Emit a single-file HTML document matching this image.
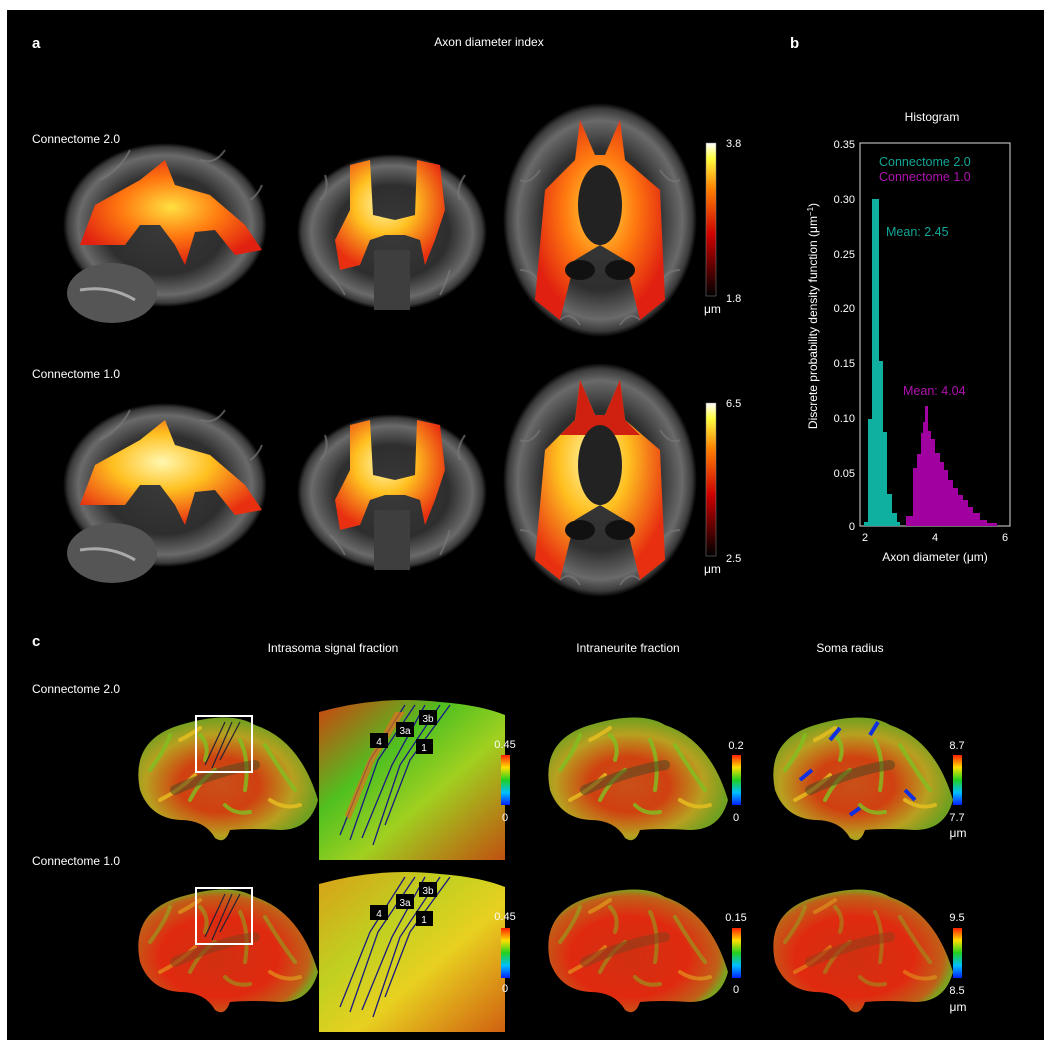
<!DOCTYPE html>
<html><head><meta charset="utf-8"><style>
html,body{margin:0;padding:0;background:#fff;}
svg{display:block;font-family:"Liberation Sans",sans-serif;}
</style></head><body>
<svg width="1051" height="1045" viewBox="0 0 1051 1045" xmlns="http://www.w3.org/2000/svg">
<defs>
<radialGradient id="gb" cx="50%" cy="50%" r="50%"><stop offset="0" stop-color="#3a3a3a"/><stop offset="0.6" stop-color="#2e2e2e"/><stop offset="0.85" stop-color="#6a6a6a"/><stop offset="0.95" stop-color="#3a3a3a"/><stop offset="1" stop-color="#000"/></radialGradient>
<radialGradient id="hot" cx="50%" cy="45%" r="55%"><stop offset="0" stop-color="#ffe040"/><stop offset="0.5" stop-color="#ff7a10"/><stop offset="1" stop-color="#e02010"/></radialGradient>
<radialGradient id="hot2" cx="45%" cy="40%" r="60%"><stop offset="0" stop-color="#fff8b0"/><stop offset="0.45" stop-color="#ffc020"/><stop offset="1" stop-color="#e83010"/></radialGradient>
<linearGradient id="cbh" x1="0" y1="1" x2="0" y2="0"><stop offset="0" stop-color="#000"/><stop offset="0.4" stop-color="#c00"/><stop offset="0.7" stop-color="#ff8000"/><stop offset="0.9" stop-color="#ffff40"/><stop offset="1" stop-color="#fff"/></linearGradient>
<linearGradient id="cbj" x1="0" y1="1" x2="0" y2="0"><stop offset="0" stop-color="#0020ff"/><stop offset="0.25" stop-color="#00c0ff"/><stop offset="0.5" stop-color="#20d020"/><stop offset="0.75" stop-color="#ffe000"/><stop offset="1" stop-color="#ff2000"/></linearGradient>
<radialGradient id="surf" cx="45%" cy="55%" r="55%"><stop offset="0" stop-color="#c85018"/><stop offset="0.4" stop-color="#d04010"/><stop offset="0.75" stop-color="#b8a020"/><stop offset="1" stop-color="#70a020"/></radialGradient>
<radialGradient id="surf2" cx="45%" cy="55%" r="55%"><stop offset="0" stop-color="#d03010"/><stop offset="0.6" stop-color="#e02a10"/><stop offset="0.9" stop-color="#c06018"/><stop offset="1" stop-color="#80a020"/></radialGradient>
<linearGradient id="zp" x1="0" y1="0" x2="1" y2="1"><stop offset="0" stop-color="#d04010"/><stop offset="0.35" stop-color="#50c020"/><stop offset="0.6" stop-color="#a0d020"/><stop offset="1" stop-color="#c05010"/></linearGradient>
<linearGradient id="zp2" x1="0" y1="0" x2="1" y2="1"><stop offset="0" stop-color="#d8a018"/><stop offset="0.35" stop-color="#c0d020"/><stop offset="0.6" stop-color="#e8d020"/><stop offset="1" stop-color="#d06010"/></linearGradient>
<g id="grey1">
<ellipse cx="165" cy="225" rx="102" ry="82" fill="url(#gb)"/>
<ellipse cx="112" cy="293" rx="45" ry="30" fill="#555"/>
<path d="M80 290 Q110 285 135 300" stroke="#aaa" stroke-width="3" fill="none"/>
<ellipse cx="392" cy="232" rx="95" ry="78" fill="url(#gb)"/>
<rect x="374" y="250" width="36" height="60" fill="#3e3e3e"/>
<ellipse cx="600" cy="220" rx="97" ry="117" fill="url(#gb)"/>
</g>
<g id="sulci" stroke="#777" stroke-width="2" fill="none" opacity="0.7">
<path d="M100 180 Q120 170 130 150 M200 160 Q215 165 225 150 M250 200 Q258 195 262 185"/>
<path d="M320 200 Q330 190 325 175 M460 200 Q455 190 465 175 M330 275 Q340 285 345 295 M450 270 Q445 285 440 295"/>
<path d="M520 180 Q530 185 540 170 M680 180 Q670 185 660 170 M520 270 Q535 270 540 285 M680 270 Q665 270 660 285 M560 320 Q570 310 580 325 M640 320 Q630 310 620 325"/>
</g>
</defs>
<rect x="7" y="10" width="1037" height="1030" fill="#000"/>
<g fill="#fff" font-size="12">
<text x="32" y="48" font-weight="bold" font-size="15">a</text>
<text x="489" y="46" text-anchor="middle">Axon diameter index</text>
<text x="790" y="48" font-weight="bold" font-size="15">b</text>
<text x="32" y="143">Connectome 2.0</text>
<text x="32" y="378">Connectome 1.0</text>
</g>
<g>
<use href="#grey1"/><use href="#sulci"/>
<path d="M80 245 L95 205 L140 180 L165 160 L175 185 L210 195 L245 225 L262 250 L235 255 L215 230 L195 232 L185 265 L175 245 L160 225 L140 225 L125 245 Z" fill="url(#hot)"/>
<path d="M350 165 L370 160 L373 215 L395 220 L415 215 L417 160 L440 165 L445 210 L435 240 L425 265 L420 240 L405 235 L385 235 L370 240 L360 265 L340 270 L335 240 L350 210 Z" fill="url(#hot2)"/>
<path d="M580 120 L575 160 L545 190 L535 300 L560 320 L575 260 L600 245 L625 260 L640 320 L665 300 L660 190 L625 160 L620 120 L605 155 L595 155 Z" fill="url(#hot)"/>
<ellipse cx="600" cy="205" rx="22" ry="40" fill="#222"/>
<ellipse cx="580" cy="270" rx="15" ry="10" fill="#111"/><ellipse cx="620" cy="270" rx="15" ry="10" fill="#111"/>
</g>
<g transform="translate(0,260)">
<use href="#grey1"/><use href="#sulci"/>
<path d="M80 245 L95 205 L140 180 L165 160 L175 185 L210 195 L245 225 L262 250 L235 255 L215 230 L195 232 L185 265 L175 245 L160 225 L140 225 L125 245 Z" fill="url(#hot2)"/>
<path d="M350 165 L370 160 L373 215 L395 220 L415 215 L417 160 L440 165 L445 210 L435 240 L425 265 L420 240 L405 235 L385 235 L370 240 L360 265 L340 270 L335 240 L350 210 Z" fill="url(#hot2)"/>
<path d="M580 120 L575 160 L545 190 L535 300 L560 320 L575 260 L600 245 L625 260 L640 320 L665 300 L660 190 L625 160 L620 120 L605 155 L595 155 Z" fill="url(#hot2)"/>
<path d="M580 120 L575 160 L560 175 L640 175 L625 160 L620 120 L605 155 L595 155 Z" fill="#d02010"/>
<ellipse cx="600" cy="205" rx="22" ry="40" fill="#222"/>
<ellipse cx="580" cy="270" rx="15" ry="10" fill="#111"/><ellipse cx="620" cy="270" rx="15" ry="10" fill="#111"/>
</g>
<rect x="706" y="143" width="10" height="153" fill="url(#cbh)" stroke="#888" stroke-width="0.5"/>
<rect x="706" y="403" width="10" height="153" fill="url(#cbh)" stroke="#888" stroke-width="0.5"/>
<g fill="#fff" font-size="11">
<text x="726" y="147">3.8</text><text x="726" y="302">1.8</text><text x="704" y="313" font-size="12">μm</text>
<text x="726" y="407">6.5</text><text x="726" y="562">2.5</text><text x="704" y="573" font-size="12">μm</text>
</g>
<g fill="#fff" font-size="12">
<text x="932" y="121" text-anchor="middle">Histogram</text>
<rect x="860" y="143" width="150" height="383" fill="none" stroke="#ddd" stroke-width="1"/>
<g font-size="11" text-anchor="end">
<text x="855" y="148">0.35</text><text x="855" y="203">0.30</text><text x="855" y="258">0.25</text><text x="855" y="312">0.20</text><text x="855" y="367">0.15</text><text x="855" y="422">0.10</text><text x="855" y="477">0.05</text><text x="855" y="530">0</text>
</g>
<g font-size="11" text-anchor="middle"><text x="865" y="541">2</text><text x="935" y="541">4</text><text x="1005" y="541">6</text></g>
<text x="935" y="561" text-anchor="middle">Axon diameter (μm)</text>
<text transform="translate(817,316) rotate(-90)" text-anchor="middle">Discrete probability density function (μm<tspan font-size="8" dy="-4">−1</tspan><tspan dy="4">)</tspan></text>
</g>
<path d="M864 526 L864 522 L868 522 L868 419 L872 419 L872 199 L879 199 L879 361 L883 361 L883 432 L887 432 L887 494 L892 494 L892 513 L897 513 L897 522 L900 522 L900 526 Z" fill="#0fb0a0"/>
<path d="M906 526 L906 516 L913 516 L913 468 L917 468 L917 454 L921 454 L921 433 L923 433 L923 422 L925 422 L925 406 L928 406 L928 431 L931 431 L931 439 L935 439 L935 453 L940 453 L940 462 L944 462 L944 470 L948 470 L948 480 L953 480 L953 488 L958 488 L958 495 L963 495 L963 500 L968 500 L968 507 L973 507 L973 513 L980 513 L980 520 L987 520 L987 523 L997 523 L997 526 Z" fill="#a000a0"/>
<g font-size="12.5"><text x="879" y="166" fill="#13a596">Connectome 2.0</text><text x="879" y="181" fill="#b010b0">Connectome 1.0</text>
<text x="886" y="236" fill="#13a596">Mean: 2.45</text><text x="903" y="395" fill="#b010b0">Mean: 4.04</text></g>
<g fill="#fff" font-size="12">
<text x="32" y="646" font-weight="bold" font-size="15">c</text>
<text x="333" y="652" text-anchor="middle">Intrasoma signal fraction</text>
<text x="628" y="652" text-anchor="middle">Intraneurite fraction</text>
<text x="850" y="652" text-anchor="middle">Soma radius</text>
<text x="32" y="693">Connectome 2.0</text>
<text x="32" y="865">Connectome 1.0</text>
</g>
<defs>
<path id="bshape" d="M140 790 Q130 740 180 725 Q230 710 255 725 Q300 740 318 800 Q310 830 280 830 Q250 828 230 830 Q225 845 215 838 Q205 820 180 820 Q150 818 140 790 Z"/>
<g id="tex" fill="none" stroke-width="4" stroke-linecap="round">
<path d="M150 770 Q165 750 170 735 M190 800 Q200 780 215 770 M240 740 Q250 760 245 790 M265 745 Q280 770 295 790 M200 735 Q210 745 205 760 M225 805 Q235 815 250 812" stroke="#80c020" opacity="0.8"/>
<path d="M160 800 Q180 790 195 775 M270 800 Q285 810 300 805 M180 740 Q190 735 200 728" stroke="#e8c020" opacity="0.8"/>
<path d="M175 790 Q220 770 255 765" stroke="#5a4a20" stroke-width="10" opacity="0.6"/>
</g>
</defs>
<g>
<use href="#bshape" fill="url(#surf)"/><use href="#tex"/>
<rect x="196" y="716" width="56" height="56" fill="none" stroke="#fff" stroke-width="2"/>
<path d="M205 765 L225 722 M212 768 L232 722 M220 760 L240 722" stroke="#223" stroke-width="1.2" fill="none"/>
<path d="M319 712 Q380 695 440 702 Q480 705 505 715 L505 860 L319 860 Z" fill="url(#zp)"/>
<path d="M340 835 L370 760 L405 705 M350 840 L378 760 L415 705 M362 838 L392 765 L425 705 M373 845 L400 765 L440 705 M385 825 L410 760 L450 705" stroke="#1a1a80" stroke-width="1.3" fill="none"/>
<path d="M350 820 L375 760 L405 712 L395 712 L368 760 L345 815 Z" fill="#e07020" opacity="0.7"/>
<rect x="370" y="733" width="18" height="15" fill="#000"/><text x="379" y="745" fill="#fff" font-size="10" text-anchor="middle">4</text>
<rect x="396" y="722" width="18" height="15" fill="#000"/><text x="405" y="734" fill="#fff" font-size="10" text-anchor="middle">3a</text>
<rect x="419" y="710" width="18" height="15" fill="#000"/><text x="428" y="722" fill="#fff" font-size="10" text-anchor="middle">3b</text>
<rect x="416" y="739" width="17" height="15" fill="#000"/><text x="424" y="751" fill="#fff" font-size="10" text-anchor="middle">1</text>
<g transform="translate(410,0)"><use href="#bshape" fill="url(#surf)"/><use href="#tex"/></g>
<g transform="translate(635,0)"><use href="#bshape" fill="url(#surf)"/><use href="#tex"/></g>
</g>
<path d="M830 740 L840 728 M870 735 L878 722 M800 780 L812 770 M905 790 L915 800 M850 815 L860 808" stroke="#1030e0" stroke-width="4" fill="none"/>
<g transform="translate(0,172)">
<use href="#bshape" fill="url(#surf2)"/><use href="#tex" opacity="0.6"/>
<rect x="196" y="716" width="56" height="56" fill="none" stroke="#fff" stroke-width="2"/>
<path d="M205 765 L225 722 M212 768 L232 722 M220 760 L240 722" stroke="#223" stroke-width="1.2" fill="none"/>
<path d="M319 712 Q380 695 440 702 Q480 705 505 715 L505 860 L319 860 Z" fill="url(#zp2)"/>
<path d="M340 835 L370 760 L405 705 M350 840 L378 760 L415 705 M362 838 L392 765 L425 705 M373 845 L400 765 L440 705 M385 825 L410 760 L450 705" stroke="#1a1a80" stroke-width="1.3" fill="none"/>
<rect x="370" y="733" width="18" height="15" fill="#000"/><text x="379" y="745" fill="#fff" font-size="10" text-anchor="middle">4</text>
<rect x="396" y="722" width="18" height="15" fill="#000"/><text x="405" y="734" fill="#fff" font-size="10" text-anchor="middle">3a</text>
<rect x="419" y="710" width="18" height="15" fill="#000"/><text x="428" y="722" fill="#fff" font-size="10" text-anchor="middle">3b</text>
<rect x="416" y="739" width="17" height="15" fill="#000"/><text x="424" y="751" fill="#fff" font-size="10" text-anchor="middle">1</text>
<g transform="translate(410,0)"><use href="#bshape" fill="url(#surf2)"/><use href="#tex" opacity="0.6"/></g>
<g transform="translate(635,0)"><use href="#bshape" fill="url(#surf2)"/><use href="#tex" opacity="0.5"/></g>
</g>
<g fill="url(#cbj)">
<rect x="501" y="755" width="9" height="50"/><rect x="732" y="755" width="9" height="50"/><rect x="953" y="755" width="9" height="50"/>
<rect x="501" y="928" width="9" height="50"/><rect x="732" y="928" width="9" height="50"/><rect x="953" y="928" width="9" height="50"/>
</g>
<g fill="#fff" font-size="11" text-anchor="middle">
<text x="505" y="748">0.45</text><text x="505" y="821">0</text>
<text x="736" y="749">0.2</text><text x="736" y="821">0</text>
<text x="957" y="749">8.7</text><text x="957" y="821">7.7</text><text x="958" y="837" font-size="12">μm</text>
<text x="505" y="920">0.45</text><text x="505" y="992">0</text>
<text x="736" y="921">0.15</text><text x="736" y="993">0</text>
<text x="957" y="921">9.5</text><text x="957" y="994">8.5</text><text x="958" y="1011" font-size="12">μm</text>
</g>
</svg>
</body></html>
